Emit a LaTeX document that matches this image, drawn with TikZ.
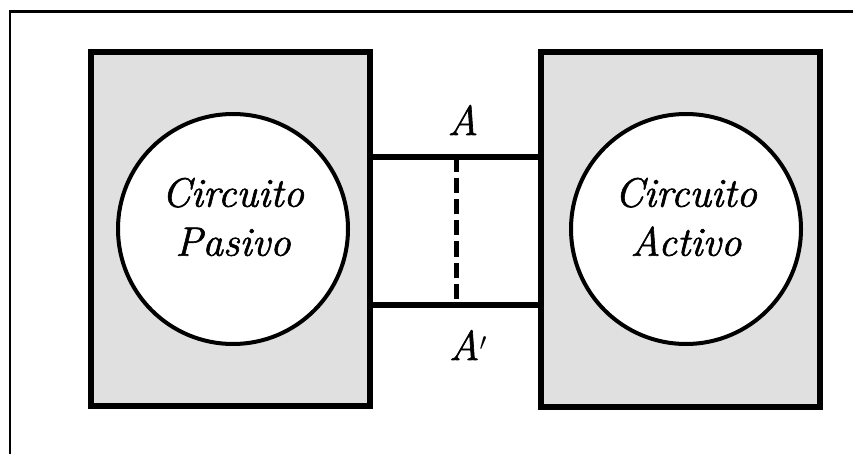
\documentclass[tikz,border=0pt]{standalone}
\usepackage{fontspec}
\setmainfont{Latin Modern Roman}[ItalicFeatures={FakeBold=1.5}]
\usepackage{tikz}

\begin{document}
\begin{tikzpicture}
  [x=1pt, y=-1pt,
   block/.style={draw, line width=6pt, fill=black!12, minimum width=279pt, minimum height=354pt},
   circuit/.style={circle, draw, line width=4pt, fill=white, minimum size=230pt},
   circuit text/.style={align=center, font=\fontsize{41}{49}\selectfont\itshape},
   wire/.style={line width=6pt},
   terminal/.style={font=\fontsize{42}{44}\selectfont\itshape}]
  \useasboundingbox (0,0) rectangle (853,454);
  \draw[line width=2.5pt] (10,454) |- (853,11.5);
  \node[block] (pasbox) at (230.5,229) {};
  \node[block] (actbox) at (680.5,229.5) {};
  \node[circuit] (pas) at (233,229) {};
  \node[circuit] (act) at (686,229) {};
  \node[circuit text] (pastext) at ([yshift=12pt]pas.center) {Circuito\\Pasivo};
  \node[circuit text] (acttext) at ([yshift=12pt]act.center) {Circuito\\Activo};
  \coordinate (a) at (456,157.5);
  \coordinate (a') at (456,305);
  \draw[wire] (pasbox.east |- a) -- (actbox.west |- a);
  \draw[wire] (pasbox.east |- a') -- (actbox.west |- a');
  \draw[line width=5pt, dash pattern=on 15pt off 6pt] (a) -- (a');
  \node[terminal] (la) at (463,120) {A};
  \node[terminal] (la') at (468,345) {A$'$};
\end{tikzpicture}
\end{document}
